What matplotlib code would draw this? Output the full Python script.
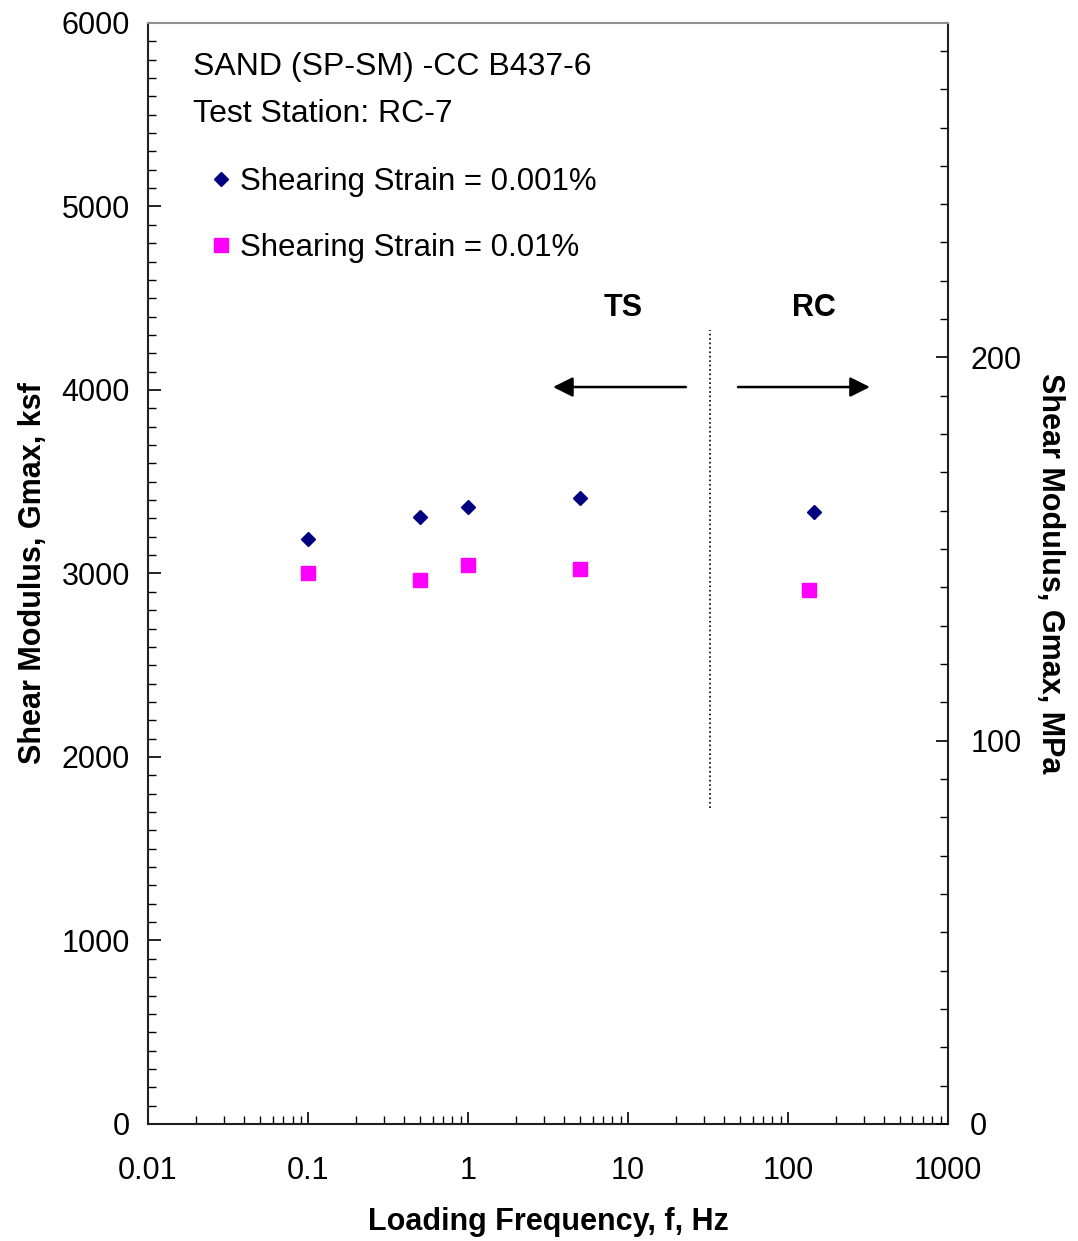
import numpy as np
import matplotlib.pyplot as plt
from matplotlib.ticker import MultipleLocator, LogLocator, FixedLocator

plt.rcParams['font.family'] = ['Liberation Sans', 'DejaVu Sans']

# data
freq1 = [0.1, 0.5, 1.0, 5.0, 145.0]
gmax1 = [3188, 3308, 3362, 3411, 3335]   # strain 0.001 %
freq2 = [0.1, 0.5, 1.0, 5.0, 135.0]
gmax2 = [3003, 2965, 3046, 3024, 2910]   # strain 0.01 %

KSF_TO_MPA = 0.04788

fig = plt.figure(figsize=(10.78, 12.41), dpi=100)
ax = fig.add_axes([0.1373, 0.0943, 0.7421, 0.8872])

ax.plot(freq1, gmax1, 'D', color='#000080', ms=7.5, ls='none',
        label='Shearing Strain = 0.001%')
ax.plot(freq2, gmax2, 's', color='#ff00ff', ms=10, ls='none',
        label='Shearing Strain = 0.01%')

ax.set_xscale('log')
ax.set_xlim(0.01, 1000)
ax.set_ylim(0, 6000)
ax.yaxis.set_major_locator(MultipleLocator(1000))
ax.yaxis.set_minor_locator(MultipleLocator(100))
ax.xaxis.set_minor_locator(LogLocator(base=10, subs=np.arange(2, 10), numticks=10))
ax.set_xticks([0.01, 0.1, 1, 10, 100, 1000])
ax.set_xticklabels(['0.01', '0.1', '1', '10', '100', '1000'])

ax.tick_params(which='both', direction='in', labelsize=22, top=False, right=False)
ax.tick_params(which='major', length=9, width=1.2)
ax.tick_params(which='minor', length=6, width=1)
ax.tick_params(axis='x', pad=23)
ax.tick_params(axis='y', pad=13)

for s in ['left', 'bottom', 'right']:
    ax.spines[s].set_linewidth(1.5)
    ax.spines[s].set_color('#202020')
ax.spines['top'].set_color('#909090')
ax.spines['top'].set_linewidth(1.5)

ax.set_xlabel('Loading Frequency, f, Hz', fontsize=22, fontweight='bold', labelpad=15)
ax.set_ylabel('Shear Modulus, Gmax, ksf', fontsize=22, fontweight='bold', labelpad=10)

ax2 = ax.twinx()
ax2.set_ylim(0, 6000 * KSF_TO_MPA)
ax2.yaxis.set_major_locator(FixedLocator([0, 100, 200]))
ax2.yaxis.set_minor_locator(MultipleLocator(10))
ax2.tick_params(which='both', direction='in', labelsize=22)
ax2.tick_params(which='major', length=9, width=1.2, pad=16)
ax2.tick_params(which='minor', length=6, width=1)
ax2.set_ylabel('Shear Modulus, Gmax, MPa', fontsize=22, fontweight='bold',
               rotation=-90, labelpad=31)
for s in ax2.spines.values():
    s.set_visible(False)

ax.text(0.056, 0.960, 'SAND (SP-SM) -CC B437-6', transform=ax.transAxes,
        fontsize=23, va='center')
ax.text(0.056, 0.917, 'Test Station: RC-7', transform=ax.transAxes,
        fontsize=23, va='center')

ax.legend(loc='upper left', bbox_to_anchor=(0.06, 0.883), frameon=False,
          fontsize=22.5, handlelength=0.6, handletextpad=0.3, labelspacing=1.15,
          borderpad=0)

# TS / RC divider and arrows
ax.vlines(32.5, 1722, 4327, colors='black', linestyles=':', linewidth=1.2)
ax.text(9.3, 4447, 'TS', fontsize=22, fontweight='bold', ha='center', va='center')
ax.text(145, 4447, 'RC', fontsize=22, fontweight='bold', ha='center', va='center')
arrow = dict(arrowstyle='-|>', color='black', lw=1.8, mutation_scale=30,
             shrinkA=0, shrinkB=0)
ax.annotate('', xy=(3.4, 4016), xytext=(23, 4016), arrowprops=arrow)
ax.annotate('', xy=(325, 4016), xytext=(48.7, 4016), arrowprops=arrow)

fig.savefig('out.png', dpi=100)
